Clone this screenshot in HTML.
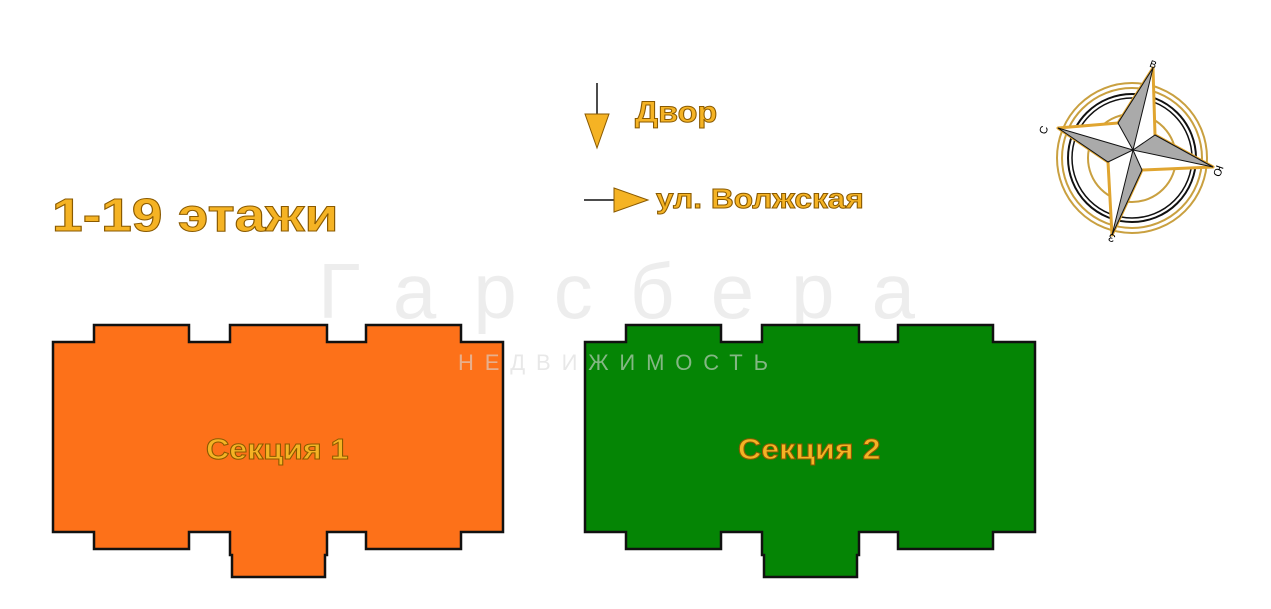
<!DOCTYPE html>
<html><head><meta charset="utf-8"><style>
body{margin:0;width:1271px;height:609px;background:#fff;overflow:hidden;position:relative;font-family:"Liberation Sans",sans-serif}
.t{position:absolute;font-weight:bold;color:#F5B324;-webkit-text-stroke:1px #8a5a00;white-space:nowrap;transform-origin:0 0}
</style></head><body>
<svg width="1271" height="609" style="position:absolute;left:0;top:0">
<text x="318" y="318" font-family="Liberation Sans" font-size="78" fill="#ededed" textLength="597" lengthAdjust="spacing">Гарсбера</text>
<g stroke="#111" stroke-width="2.5" stroke-linejoin="miter">
<path fill="#FD7119" d="M53 342H94V325H189V342H230V325H327V342H366V325H461V342H503V532H461V549H366V532H327V555H325V577H232V555H230V532H189V549H94V532H53Z"/>
<path fill="#058505" transform="translate(532,0)" d="M53 342H94V325H189V342H230V325H327V342H366V325H461V342H503V532H461V549H366V532H327V555H325V577H232V555H230V532H189V549H94V532H53Z"/>
</g>
<text x="458" y="370" font-family="Liberation Sans" font-size="22" fill="#d8d8d8" fill-opacity="0.6" textLength="310" lengthAdjust="spacing">НЕДВИЖИМОСТЬ</text>
<line x1="597" y1="83" x2="597" y2="115" stroke="#111" stroke-width="1.5"/>
<polygon points="585,114 609,114 597,148" fill="#F5B324" stroke="#8a5a00"/>
<line x1="584" y1="200" x2="616" y2="200" stroke="#111" stroke-width="1.5"/>
<polygon points="614,188 614,212 648,200" fill="#F5B324" stroke="#8a5a00"/>
<g transform="translate(1132,158)">
<circle r="75" fill="none" stroke="#c9a040" stroke-width="2"/>
<circle r="70" fill="none" stroke="#c9a040" stroke-width="2"/>
<circle r="64" fill="none" stroke="#111" stroke-width="2"/>
<circle r="60" fill="none" stroke="#111" stroke-width="1.5"/>
<circle r="44" fill="none" stroke="#c9a040" stroke-width="2"/>
</g>
<polygon points="1153,68 1155,135 1213,167 1142,170 1112,235 1108,162 1058,128 1118,123" fill="#fff" stroke="#e0a530" stroke-width="3" stroke-linejoin="round"/>
<g fill="#aaa" stroke="#111" stroke-width="1">
<polygon points="1153,68 1118,123 1133,150"/>
<polygon points="1058,128 1108,162 1133,150"/>
<polygon points="1112,235 1142,170 1133,150"/>
<polygon points="1213,167 1155,135 1133,150"/>
</g>
<text x="1150" y="68" font-size="10" font-family="Liberation Sans" transform="rotate(20 1154 64)">В</text>
<text x="1038" y="132" font-size="11" font-family="Liberation Sans" transform="rotate(-70 1044 128)">С</text>
<text x="1216" y="175" font-size="11" font-family="Liberation Sans" transform="rotate(110 1220 170)">Ю</text>
<text x="1107" y="242" font-size="11" font-family="Liberation Sans" transform="rotate(200 1111 238)">З</text>
</svg>
<div class="t" style="left:52px;top:188px;font-size:46px;transform:scaleX(1.2)">1-19 этажи</div>
<div class="t" style="left:635px;top:96px;font-size:30px;transform:scaleX(1.08)">Двор</div>
<div class="t" style="left:656px;top:183px;font-size:28px;transform:scaleX(1.13)">ул. Волжская</div>
<div class="t" style="left:206px;top:434px;font-size:29px;transform:scaleX(1.11)">Секция 1</div>
<div class="t" style="left:738px;top:434px;font-size:29px;transform:scaleX(1.11)">Секция 2</div>
</body></html>
